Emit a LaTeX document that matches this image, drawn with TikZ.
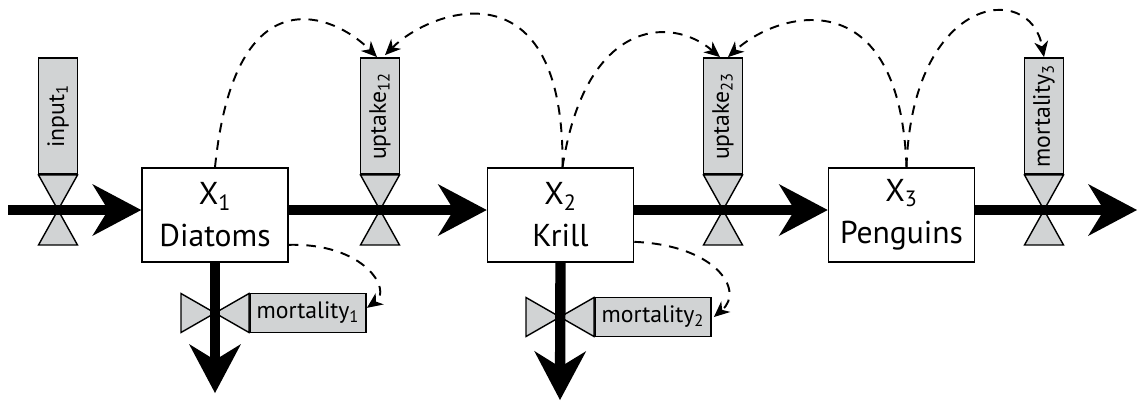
\documentclass[tikz,border=0pt]{standalone}
\usepackage{fontspec}
\setmainfont{PT Sans}
\usetikzlibrary{arrows.meta, calc}
\definecolor{valvegray}{RGB}{209,211,212}
\tikzset{
  stock/.style={rectangle, draw=black, fill=white, line width=0.9pt,
                minimum width=2.92cm, minimum height=1.88cm, inner sep=0pt,
                align=center, font=\fontsize{18}{24}\selectfont},
  gauge/.style={rectangle, draw=black, fill=valvegray, line width=1.1pt,
                minimum width=2.32cm, minimum height=0.78cm, inner sep=0pt,
                font=\fontsize{13.5}{15}\selectfont},
  valvepart/.style={draw=black, fill=valvegray, line width=0.8pt},
  flow/.style={line width=5.9pt,
               -{Stealth[length=9.8mm, width=10.4mm, inset=3.2mm, line width=0pt]}},
  feedback/.style={dashed, dash pattern=on 5.5pt off 4.5pt, line width=1.1pt,
                   -{Stealth[length=9pt, width=8pt, inset=2.8pt, line width=0pt]}},
  valve v/.pic={\draw[valvepart] (-19.5,-35) -- (19.5,-35) -- (0,0) -- cycle
                                 (-19.5,35) -- (19.5,35) -- (0,0) -- cycle;},
  valve h/.pic={\draw[valvepart] (-34,-19.5) -- (-34,19.5) -- (0,0) -- cycle
                                 (34,-19.5) -- (34,19.5) -- (0,0) -- cycle;},
}

\begin{document}
\begin{tikzpicture}[x=0.02cm, y=-0.02cm]
  \useasboundingbox (0,0) rectangle (1139,407);

  % Stocks
  \node[stock] (X1) at (215,215) {X\textsubscript{1}\\Diatoms};
  \node[stock] (X2) at (560.5,215) {X\textsubscript{2}\\Krill};
  \node[stock] (X3) at (901.5,215) {X\textsubscript{3}\\Penguins};

  % Valve centres, sources and sinks
  \coordinate (v0) at (58,210);
  \coordinate (v12) at (380,210);
  \coordinate (v23) at (723,210);
  \coordinate (v3) at (1044,210);
  \coordinate (vm1) at (215,313);
  \coordinate (vm2) at (560,317);
  \coordinate (src) at (8,210);
  \coordinate (snk) at (1137,210);
  \coordinate (d1) at (215,393);
  \coordinate (d2) at (560,400);

  % Rate gauges
  \node[gauge, rotate=90, anchor=west] (inp1) at ($(v0)+(0,-35)$) {input\textsubscript{1}};
  \node[gauge, rotate=90, anchor=west] (upt12) at ($(v12)+(0,-35)$) {uptake\textsubscript{12}};
  \node[gauge, rotate=90, anchor=west] (upt23) at ($(v23)+(0,-35)$) {uptake\textsubscript{23}};
  \node[gauge, rotate=90, anchor=west] (mort3) at ($(v3)+(0,-35)$) {mortality\textsubscript{3}};
  \node[gauge, anchor=west] (mort1) at ($(vm1)+(34,0)$) {mortality\textsubscript{1}};
  \node[gauge, anchor=west] (mort2) at ($(vm2)+(34,0)$) {mortality\textsubscript{2}};

  % Valves
  \foreach \v in {v0, v12, v23, v3} \pic at (\v) {valve v};
  \foreach \v in {vm1, vm2} \pic at (\v) {valve h};

  % Material flows
  \draw[flow] (src) -- (X1.west |- src);
  \draw[flow] (X1.east |- v12) -- (X2.west |- v12);
  \draw[flow] (X2.east |- v23) -- (X3.west |- v23);
  \draw[flow] (X3.east |- v3) -- (snk);
  \draw[flow] (X1.south) -- (d1);
  \draw[flow] (X2.south) -- (d2);

  % Information links
  \draw[feedback] (X1.north) .. controls (235,-30) and (335,15) .. ($(upt12.east)+(-3,0)$);
  \draw[feedback] ($(X2.north)+(2,0)$) .. controls (565,-40) and (430,10) .. ($(upt12.east)+(5,-2)$);
  \draw[feedback] ($(X2.north)+(2,0)$) .. controls (585,20) and (670,15) .. ($(upt23.east)+(-3,0)$);
  \draw[feedback] ($(X3.north)+(5,0)$) .. controls (900,-20) and (780,10) .. ($(upt23.east)+(5,0)$);
  \draw[feedback] ($(X3.north)+(5,0)$) .. controls (912,-5) and (1030,-20) .. (mort3.east);
  \draw[feedback] (X1.-22) .. controls (365,243) and (392,290) .. (mort1.5);
  \draw[feedback] (X2.-20) .. controls (715,245) and (745,290) .. ($(mort2.east)+(2,0)$);
\end{tikzpicture}
\end{document}
